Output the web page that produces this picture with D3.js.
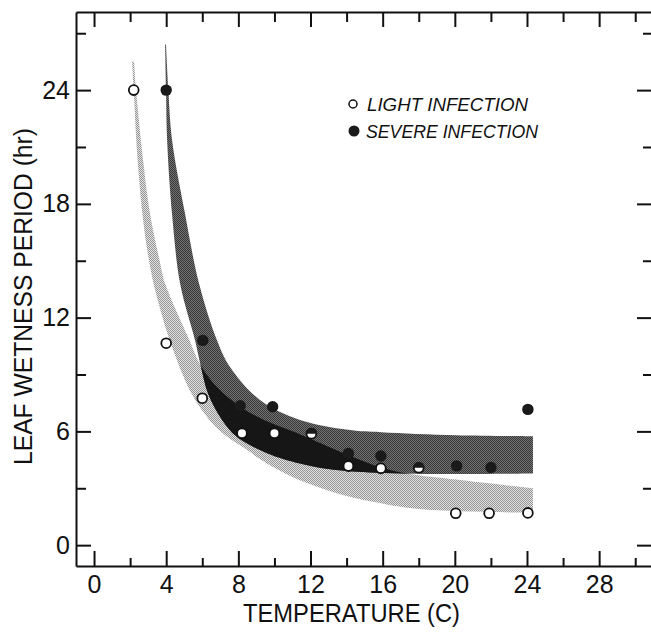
<!DOCTYPE html>
<html>
<head>
<meta charset="utf-8">
<script src="https://cdn.jsdelivr.net/npm/d3@7.9.0/dist/d3.min.js"></script>
<style>
  body { margin: 0; background: #fff; }
  svg { display: block; font-family: "Liberation Sans", Arial, sans-serif; }
</style>
</head>
<body>
<svg id="chart" width="651" height="637"></svg>
<script>
// observed points (temperature C, hours of wetness)
const lightT = [2.2, 4, 6, 8.2, 10, 14.1, 15.9, 20.05, 21.9, 24.05];
const lightHr = [24, 10.65, 7.75, 5.9, 5.9, 4.17, 4.05, 1.68, 1.68, 1.7];
const severeT = [4, 6.03, 8.1, 9.9, 14.1, 15.9, 20.1, 22, 24.05];
const severeHr = [24, 10.8, 7.35, 7.3, 4.84, 4.7, 4.18, 4.1, 7.16];
// both infection levels at the same spot (half-filled symbol)
const bothT = [12.05, 18];
const bothHr = [5.88, 4.08];

// shaded bands
const lightUpperT = [2.22, 2.33, 2.72, 3.1, 3.66, 3.94, 5.25, 5.9, 6.7, 7.9, 9.2, 11.4, 12.5, 14.2, 15.9, 17.5, 19.2, 24.33];
const lightUpperHr = [25.5, 24, 20.3, 17.5, 14.9, 13.8, 10.9, 9.5, 8.45, 7.45, 6.7, 5.85, 5.4, 4.7, 4.1, 3.75, 3.55, 3.0];
const lightLowerT = [2.11, 2.2, 2.4, 2.7, 3.05, 3.4, 4.2, 5.4, 6.4, 7.2, 8.6, 9.1, 11.0, 13.6, 15.4, 18, 24.33];
const lightLowerHr = [25.5, 24, 20.5, 17.3, 15.0, 13.4, 10.8, 8.0, 6.6, 5.85, 4.95, 4.6, 3.6, 2.7, 2.3, 1.9, 1.7];
const severeUpperT = [3.99, 4.12, 4.32, 5.04, 5.82, 6.82, 7.54, 9.2, 11.42, 14.19, 15.91, 20.07, 24.33];
const severeUpperHr = [26.4, 24, 21.4, 17.5, 13.8, 10.8, 9.4, 7.65, 6.6, 6.07, 5.96, 5.8, 5.75];
const severeLowerT = [3.94, 3.99, 4.05, 4.32, 4.77, 5.6, 5.93, 6.32, 7.1, 7.93, 9.59, 11.42, 12.5, 14.19, 17.52, 24.33];
const severeLowerHr = [26.4, 24, 21.4, 17.5, 13.8, 10.8, 9.4, 8.0, 6.6, 5.7, 4.85, 4.3, 4.08, 3.9, 3.77, 3.78];

const xMajor = [0, 4, 8, 12, 16, 20, 24, 28];
const xMinor = [2, 6, 10, 14, 18, 22, 26, 30];
const yMajor = [0, 6, 12, 18, 24];
const yMinor = [3, 9, 15, 21, 27];

const svg = d3.select('#chart');

const x = d3.scaleLinear().domain([-1, 30.93]).range([76, 652]);
const y = d3.scaleLinear().domain([-1.1, 28.12]).range([566, 12]);

// patterns for the stippled bands
const defs = svg.append('defs');
function checker(id, a, b) {
  const p = defs.append('pattern')
    .attr('id', id).attr('patternUnits', 'userSpaceOnUse')
    .attr('width', 2).attr('height', 2);
  p.append('rect').attr('width', 2).attr('height', 2).attr('fill', a);
  p.append('rect').attr('width', 1).attr('height', 1).attr('fill', b);
  p.append('rect').attr('x', 1).attr('y', 1).attr('width', 1).attr('height', 1).attr('fill', b);
}
checker('lightDots', '#e2e2e2', '#959595');
checker('severeDots', '#727272', '#383838');

const edge = d3.line()
  .x(d => x(d[0])).y(d => y(d[1]))
  .curve(d3.curveCatmullRom.alpha(0.5));

function band(upT, upHr, loT, loHr) {
  const up = d3.zip(upT, upHr);
  const lo = d3.zip(loT, loHr).reverse();
  return edge(up) + edge(lo).replace(/^M/, 'L') + 'Z';
}

const lightBand = band(lightUpperT, lightUpperHr, lightLowerT, lightLowerHr);
const severeBand = band(severeUpperT, severeUpperHr, severeLowerT, severeLowerHr);

defs.append('clipPath').attr('id', 'severeClip')
  .append('path').attr('d', severeBand);

svg.append('path').attr('d', lightBand).attr('fill', 'url(#lightDots)');
svg.append('path').attr('d', severeBand).attr('fill', 'url(#severeDots)');
// where the two bands overlap it prints solid black
svg.append('path').attr('d', lightBand).attr('fill', '#161616')
  .attr('clip-path', 'url(#severeClip)');

// axes, ticks all pointing inward
function styleAxis(g) {
  g.selectAll('path.domain').attr('stroke', '#111').attr('stroke-width', 2);
  g.selectAll('.tick line').attr('stroke', '#111').attr('stroke-width', 2);
  g.selectAll('.tick text').attr('font-size', 25).attr('fill', '#111');
}

const axisB = svg.append('g').attr('transform', 'translate(0,566)');
axisB.call(d3.axisBottom(x).tickValues(xMinor).tickSize(-8).tickSizeOuter(0).tickFormat(''));
axisB.append('g')
  .call(d3.axisBottom(x).tickValues(xMajor).tickSize(-15).tickSizeOuter(0).tickPadding(9))
  .call(g => g.select('.domain').remove());
styleAxis(axisB);

const axisT = svg.append('g').attr('transform', 'translate(0,12)');
axisT.call(d3.axisTop(x).tickValues(xMinor).tickSize(-10).tickSizeOuter(0).tickFormat(''));
axisT.append('g')
  .call(d3.axisTop(x).tickValues(xMajor).tickSize(-15).tickSizeOuter(0).tickFormat(''))
  .call(g => g.select('.domain').remove());
styleAxis(axisT);

const axisL = svg.append('g').attr('transform', 'translate(76,0)');
axisL.call(d3.axisLeft(y).tickValues(yMinor).tickSize(-10).tickSizeOuter(0).tickFormat(''));
axisL.append('g')
  .call(d3.axisLeft(y).tickValues(yMajor).tickSize(-15).tickSizeOuter(0).tickPadding(6))
  .call(g => g.select('.domain').remove());
styleAxis(axisL);

const axisR = svg.append('g').attr('transform', 'translate(652,0)');
axisR.call(d3.axisRight(y).tickValues(yMinor).tickSize(-9).tickSizeOuter(0).tickFormat(''));
axisR.append('g')
  .call(d3.axisRight(y).tickValues(yMajor).tickSize(-15).tickSizeOuter(0).tickFormat(''))
  .call(g => g.select('.domain').remove());
styleAxis(axisR);

// axis titles
svg.append('text')
  .attr('x', 243).attr('y', 622)
  .attr('font-size', 25).attr('fill', '#111')
  .attr('textLength', 217).attr('lengthAdjust', 'spacingAndGlyphs')
  .text('TEMPERATURE (C)');

svg.append('text')
  .attr('transform', 'translate(32,465) rotate(-90)')
  .attr('font-size', 26).attr('fill', '#111')
  .attr('textLength', 337).attr('lengthAdjust', 'spacingAndGlyphs')
  .text('LEAF WETNESS PERIOD (hr)');

// points
svg.append('g').selectAll('circle')
  .data(d3.zip(severeT, severeHr))
  .join('circle')
  .attr('cx', d => x(d[0])).attr('cy', d => y(d[1]))
  .attr('r', 5.7).attr('fill', '#1a1a1a');

svg.append('g').selectAll('circle')
  .data(d3.zip(lightT, lightHr))
  .join('circle')
  .attr('cx', d => x(d[0])).attr('cy', d => y(d[1]))
  .attr('r', 4.9).attr('fill', '#fff')
  .attr('stroke', '#111').attr('stroke-width', 1.8);

const halfTop = d3.arc().innerRadius(0).outerRadius(5.8)
  .startAngle(-Math.PI / 2).endAngle(Math.PI / 2);
const both = svg.append('g').selectAll('g')
  .data(d3.zip(bothT, bothHr))
  .join('g')
  .attr('transform', d => `translate(${x(d[0])},${y(d[1])})`);
both.append('circle').attr('r', 4.9).attr('fill', '#fff')
  .attr('stroke', '#111').attr('stroke-width', 1.8);
both.append('path').attr('d', halfTop).attr('fill', '#1a1a1a');

// legend
const legend = svg.append('g');
legend.append('circle').attr('cx', 353).attr('cy', 104).attr('r', 4)
  .attr('fill', '#fff').attr('stroke', '#111').attr('stroke-width', 1.5);
legend.append('circle').attr('cx', 354).attr('cy', 131).attr('r', 5.5)
  .attr('fill', '#1a1a1a');
legend.append('text').attr('x', 367).attr('y', 111)
  .attr('font-size', 19).attr('font-style', 'italic').attr('fill', '#111')
  .attr('textLength', 161).attr('lengthAdjust', 'spacingAndGlyphs')
  .text('LIGHT INFECTION');
legend.append('text').attr('x', 366).attr('y', 138)
  .attr('font-size', 19).attr('font-style', 'italic').attr('fill', '#111')
  .attr('textLength', 172).attr('lengthAdjust', 'spacingAndGlyphs')
  .text('SEVERE INFECTION');
</script>
</body>
</html>
